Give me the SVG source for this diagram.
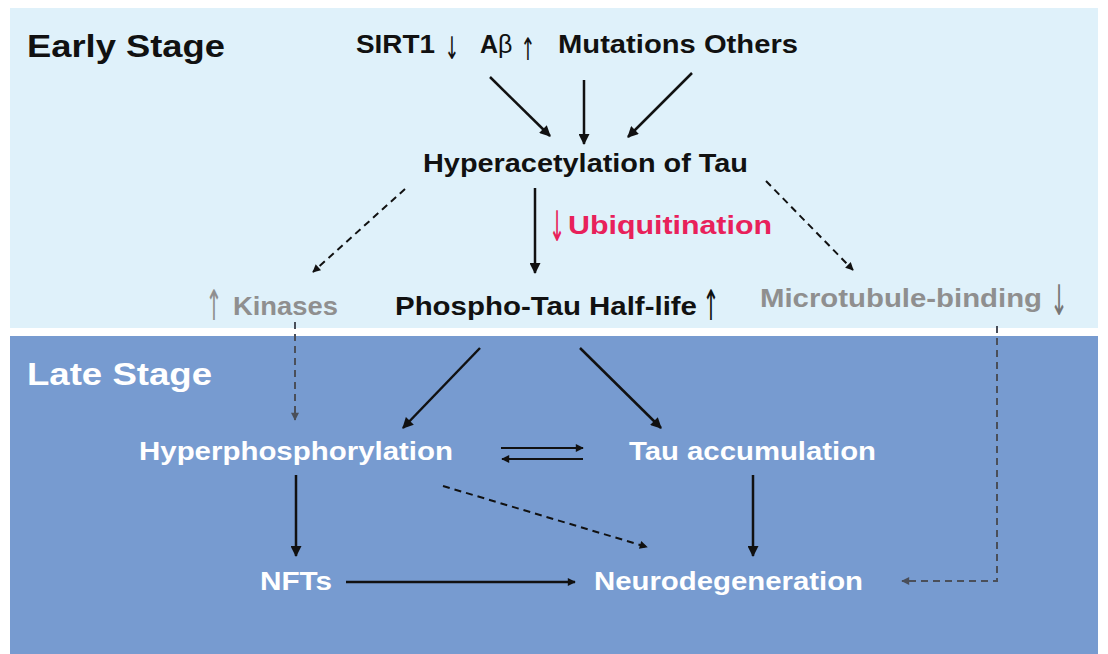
<svg xmlns="http://www.w3.org/2000/svg" width="1108" height="654" viewBox="0 0 1108 654">
<defs>
<style>
.t{font-family:"Liberation Sans",Arial,sans-serif;font-weight:bold;font-size:25px;}
.h{font-family:"Liberation Sans",Arial,sans-serif;font-weight:bold;font-size:32px;}
.ar{font-family:"DejaVu Sans",sans-serif;font-weight:normal;text-anchor:middle;}
.sm{font-size:31px;}
.lg{font-size:42px;}
.k{fill:#111;}
.w{fill:#ffffff;}
.g{fill:#8f8f8f;}
.r{fill:#e8215a;}
.s{fill:none;stroke:#111;stroke-width:2.5;}
.s2{fill:none;stroke:#111;stroke-width:2;}
.d{fill:none;stroke:#111;stroke-width:2;stroke-dasharray:7,5;}
.dg{fill:none;stroke:#4a4f5a;stroke-width:2;stroke-dasharray:7,5;}
</style>
<marker id="a" viewBox="0 0 10 10" refX="9" refY="5" markerWidth="16" markerHeight="11" markerUnits="userSpaceOnUse" orient="auto"><path d="M0,0 L10,5 L0,10 z" fill="#111"/></marker>
<marker id="as" viewBox="0 0 10 10" refX="9" refY="5" markerWidth="12" markerHeight="8" markerUnits="userSpaceOnUse" orient="auto"><path d="M0,0 L10,5 L0,10 z" fill="#111"/></marker>
<marker id="ag" viewBox="0 0 10 10" refX="9" refY="5" markerWidth="12" markerHeight="8" markerUnits="userSpaceOnUse" orient="auto"><path d="M0,0 L10,5 L0,10 z" fill="#4a4f5a"/></marker>
</defs>
<rect x="0" y="0" width="1108" height="654" fill="#ffffff"/>
<g id="early-stage">
<rect x="10" y="8" width="1088" height="320" fill="#dff1fa"/>
<text class="h k" x="27" y="57" textLength="198" lengthAdjust="spacingAndGlyphs">Early Stage</text>
</g>
<g id="late-stage">
<rect x="10" y="336" width="1088" height="318" fill="#779bd0"/>
<text class="h w" x="27" y="385" textLength="185" lengthAdjust="spacingAndGlyphs">Late Stage</text>
</g>
<g id="connectors">
<path class="s" d="M490,77 L550,136" marker-end="url(#a)"/>
<path class="s" d="M584,80 L584,144" marker-end="url(#a)"/>
<path class="s" d="M692,73 L628,137" marker-end="url(#a)"/>
<path class="s" d="M535,188 L535,273" marker-end="url(#a)"/>
<path class="d" d="M405,189 L313,272" marker-end="url(#as)"/>
<path class="d" d="M766,181 L853,270" marker-end="url(#as)"/>
<path class="dg" d="M295,322 L295,420" marker-end="url(#ag)"/>
<path class="dg" d="M997,326 L997,581 L902,581" marker-end="url(#ag)"/>
<path class="s" d="M480,348 L403,428" marker-end="url(#a)"/>
<path class="s" d="M580,348 L661,428" marker-end="url(#a)"/>
<path class="s2" d="M501,448 L583,448" marker-end="url(#as)"/>
<path class="s2" d="M583,459 L502,459" marker-end="url(#as)"/>
<path class="s" d="M296,475 L296,556" marker-end="url(#a)"/>
<path class="d" d="M443,486 L647,547" marker-end="url(#as)"/>
<path class="s" d="M753,475 L753,556" marker-end="url(#a)"/>
<path class="s" d="M346,582 L575,582" marker-end="url(#as)"/>
</g>
<g id="sirt1">
<text class="t k" x="356" y="53" textLength="79" lengthAdjust="spacingAndGlyphs">SIRT1</text>
<text class="ar sm k" transform="translate(452,59) scale(0.58,1)">↓</text>
</g>
<g id="abeta">
<text class="t k" x="480" y="53">A<tspan font-weight="normal">β</tspan></text>
<text class="ar sm k" transform="translate(528,60) scale(0.58,1)">↑</text>
</g>
<g id="mutations">
<text class="t k" x="558" y="53" textLength="240" lengthAdjust="spacingAndGlyphs">Mutations Others</text>
</g>
<g id="hyperacetylation">
<text class="t k" x="423" y="172" textLength="325" lengthAdjust="spacingAndGlyphs">Hyperacetylation of Tau</text>
</g>
<g id="ubiquitination">
<text class="ar lg r" transform="translate(557,241) scale(0.46,1)">↓</text>
<text class="t r" x="568" y="234" textLength="204" lengthAdjust="spacingAndGlyphs">Ubiquitination</text>
</g>
<g id="kinases">
<text class="ar lg g" transform="translate(214,320) scale(0.48,1)">↑</text>
<text class="t g" x="233" y="315" textLength="105" lengthAdjust="spacingAndGlyphs">Kinases</text>
</g>
<g id="phospho-tau">
<text class="t k" x="395" y="315" textLength="302" lengthAdjust="spacingAndGlyphs">Phospho-Tau Half-life</text>
<text class="ar lg k" transform="translate(711,320) scale(0.48,1)">↑</text>
</g>
<g id="microtubule">
<text class="t g" x="760" y="307" textLength="282" lengthAdjust="spacingAndGlyphs">Microtubule-binding</text>
<text class="ar lg" transform="translate(1059,315) scale(0.5,1)" fill="#777">↓</text>
</g>
<g id="hyperphosphorylation">
<text class="t w" x="139" y="460" textLength="314" lengthAdjust="spacingAndGlyphs">Hyperphosphorylation</text>
</g>
<g id="tau-accumulation">
<text class="t w" x="629" y="460" textLength="247" lengthAdjust="spacingAndGlyphs">Tau accumulation</text>
</g>
<g id="nfts">
<text class="t w" x="260" y="590" textLength="72" lengthAdjust="spacingAndGlyphs">NFTs</text>
</g>
<g id="neurodegeneration">
<text class="t w" x="594" y="590" textLength="269" lengthAdjust="spacingAndGlyphs">Neurodegeneration</text>
</g>
</svg>
